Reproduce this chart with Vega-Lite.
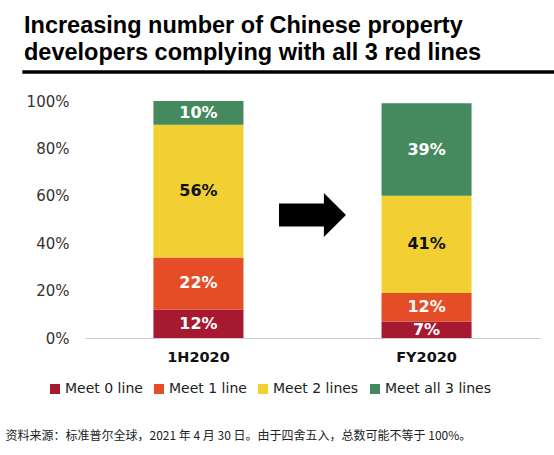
{
  "$schema": "https://vega.github.io/schema/vega-lite/v6.json",
  "autosize": {"type": "none"},
  "width": 455,
  "height": 237,
  "padding": {"left": 85, "top": 101, "right": 14, "bottom": 117},
  "background": "white",
  "title": {
    "text": ["Increasing number of Chinese property", "developers complying with all 3 red lines"],
    "anchor": "start",
    "frame": "bounds",
    "dx": 19,
    "font": "Liberation Sans",
    "fontSize": 23.5,
    "fontWeight": "bold",
    "color": "#000000",
    "lineHeight": 27,
    "offset": 6
  },
  "data": {
    "values": [
      {"period": "1H2020", "category": "Meet 0 line", "value": 0.12, "order": 1},
      {"period": "1H2020", "category": "Meet 1 line", "value": 0.22, "order": 2},
      {"period": "1H2020", "category": "Meet 2 lines", "value": 0.56, "order": 3},
      {"period": "1H2020", "category": "Meet all 3 lines", "value": 0.10, "order": 4},
      {"period": "FY2020", "category": "Meet 0 line", "value": 0.07, "order": 1},
      {"period": "FY2020", "category": "Meet 1 line", "value": 0.12, "order": 2},
      {"period": "FY2020", "category": "Meet 2 lines", "value": 0.41, "order": 3},
      {"period": "FY2020", "category": "Meet all 3 lines", "value": 0.39, "order": 4}
    ]
  },
  "transform": [
    {"stack": "value", "groupby": ["period"], "sort": [{"field": "order"}], "as": ["y0", "y1"]},
    {"calculate": "(datum.y0 + datum.y1) / 2", "as": "mid"}
  ],
  "layer": [
    {
      "mark": {"type": "bar"},
      "encoding": {
        "x": {
          "field": "period", "type": "nominal",
          "scale": {"domain": ["1H2020", "gap", "FY2020"], "paddingInner": 0.2105, "paddingOuter": 0.6},
          "axis": {
            "values": ["1H2020", "FY2020"],
            "labelAngle": 0,
            "labelFont": "DejaVu Sans",
            "labelFontSize": 14.5,
            "labelFontWeight": "bold",
            "labelColor": "#111111",
            "labelPadding": 12,
            "ticks": false,
            "domainColor": "#cccccc",
            "domainWidth": 1,
            "title": "资料来源：标准普尔全球，2021 年 4 月 30 日。由于四舍五入，总数可能不等于 100%。",
            "titleFont": "Noto Sans CJK SC",
            "titleFontSize": 12,
            "titleFontWeight": "normal",
            "titleColor": "#222222",
            "titleAnchor": "start",
            "titleAlign": "left",
            "titleBaseline": "middle",
            "titleX": -80,
            "titleY": 97
          }
        },
        "y": {
          "field": "y0", "type": "quantitative",
          "scale": {"domain": [0, 1], "nice": false},
          "axis": {
            "values": [0, 0.2, 0.4, 0.6, 0.8, 1],
            "format": ".0%",
            "domain": false,
            "ticks": false,
            "grid": false,
            "labelPadding": 16,
            "labelFont": "DejaVu Sans",
            "labelFontSize": 15,
            "labelColor": "#333333",
            "title": null
          }
        },
        "y2": {"field": "y1"},
        "color": {
          "field": "category", "type": "nominal",
          "scale": {
            "domain": ["Meet 0 line", "Meet 1 line", "Meet 2 lines", "Meet all 3 lines"],
            "range": ["#a71930", "#e44d26", "#f2d034", "#45895f"]
          },
          "legend": {
            "orient": "none",
            "legendX": -37,
            "legendY": 281,
            "direction": "horizontal",
            "title": null,
            "symbolType": "square",
            "symbolSize": 100,
            "symbolStrokeWidth": 0,
            "labelFont": "DejaVu Sans",
            "labelFontSize": 14,
            "labelColor": "#222222",
            "labelOffset": 3,
            "columnPadding": 9
          }
        }
      }
    },
    {
      "mark": {"type": "text", "font": "DejaVu Sans", "fontSize": 16, "fontWeight": "bold", "baseline": "middle"},
      "encoding": {
        "x": {"field": "period", "type": "nominal"},
        "y": {"field": "mid", "type": "quantitative"},
        "text": {"field": "value", "type": "quantitative", "format": ".0%"},
        "color": {
          "condition": {"test": "datum.category === 'Meet 2 lines'", "value": "#111111"},
          "value": "#ffffff"
        }
      }
    },
    {
      "data": {"values": [{}]},
      "mark": {"type": "rule", "color": "#000000", "strokeWidth": 3.5, "clip": false},
      "encoding": {
        "x": {"datum": "1H2020", "type": "nominal", "bandPosition": -1.456},
        "x2": {"datum": "FY2020", "bandPosition": 1.922},
        "y": {"datum": 1.1224, "type": "quantitative"}
      }
    },
    {
      "data": {"values": [{}]},
      "mark": {
        "type": "point",
        "shape": "M -1 -0.34 L 0.34 -0.34 L 0.34 -0.66 L 1 0 L 0.34 0.66 L 0.34 0.34 L -1 0.34 Z",
        "size": 4489,
        "filled": true,
        "color": "#000000",
        "opacity": 1,
        "strokeWidth": 0
      },
      "encoding": {
        "x": {"datum": "gap", "type": "nominal"},
        "y": {"datum": 0.519, "type": "quantitative"}
      }
    }
  ],
  "config": {
    "view": {"stroke": null}
  }
}
